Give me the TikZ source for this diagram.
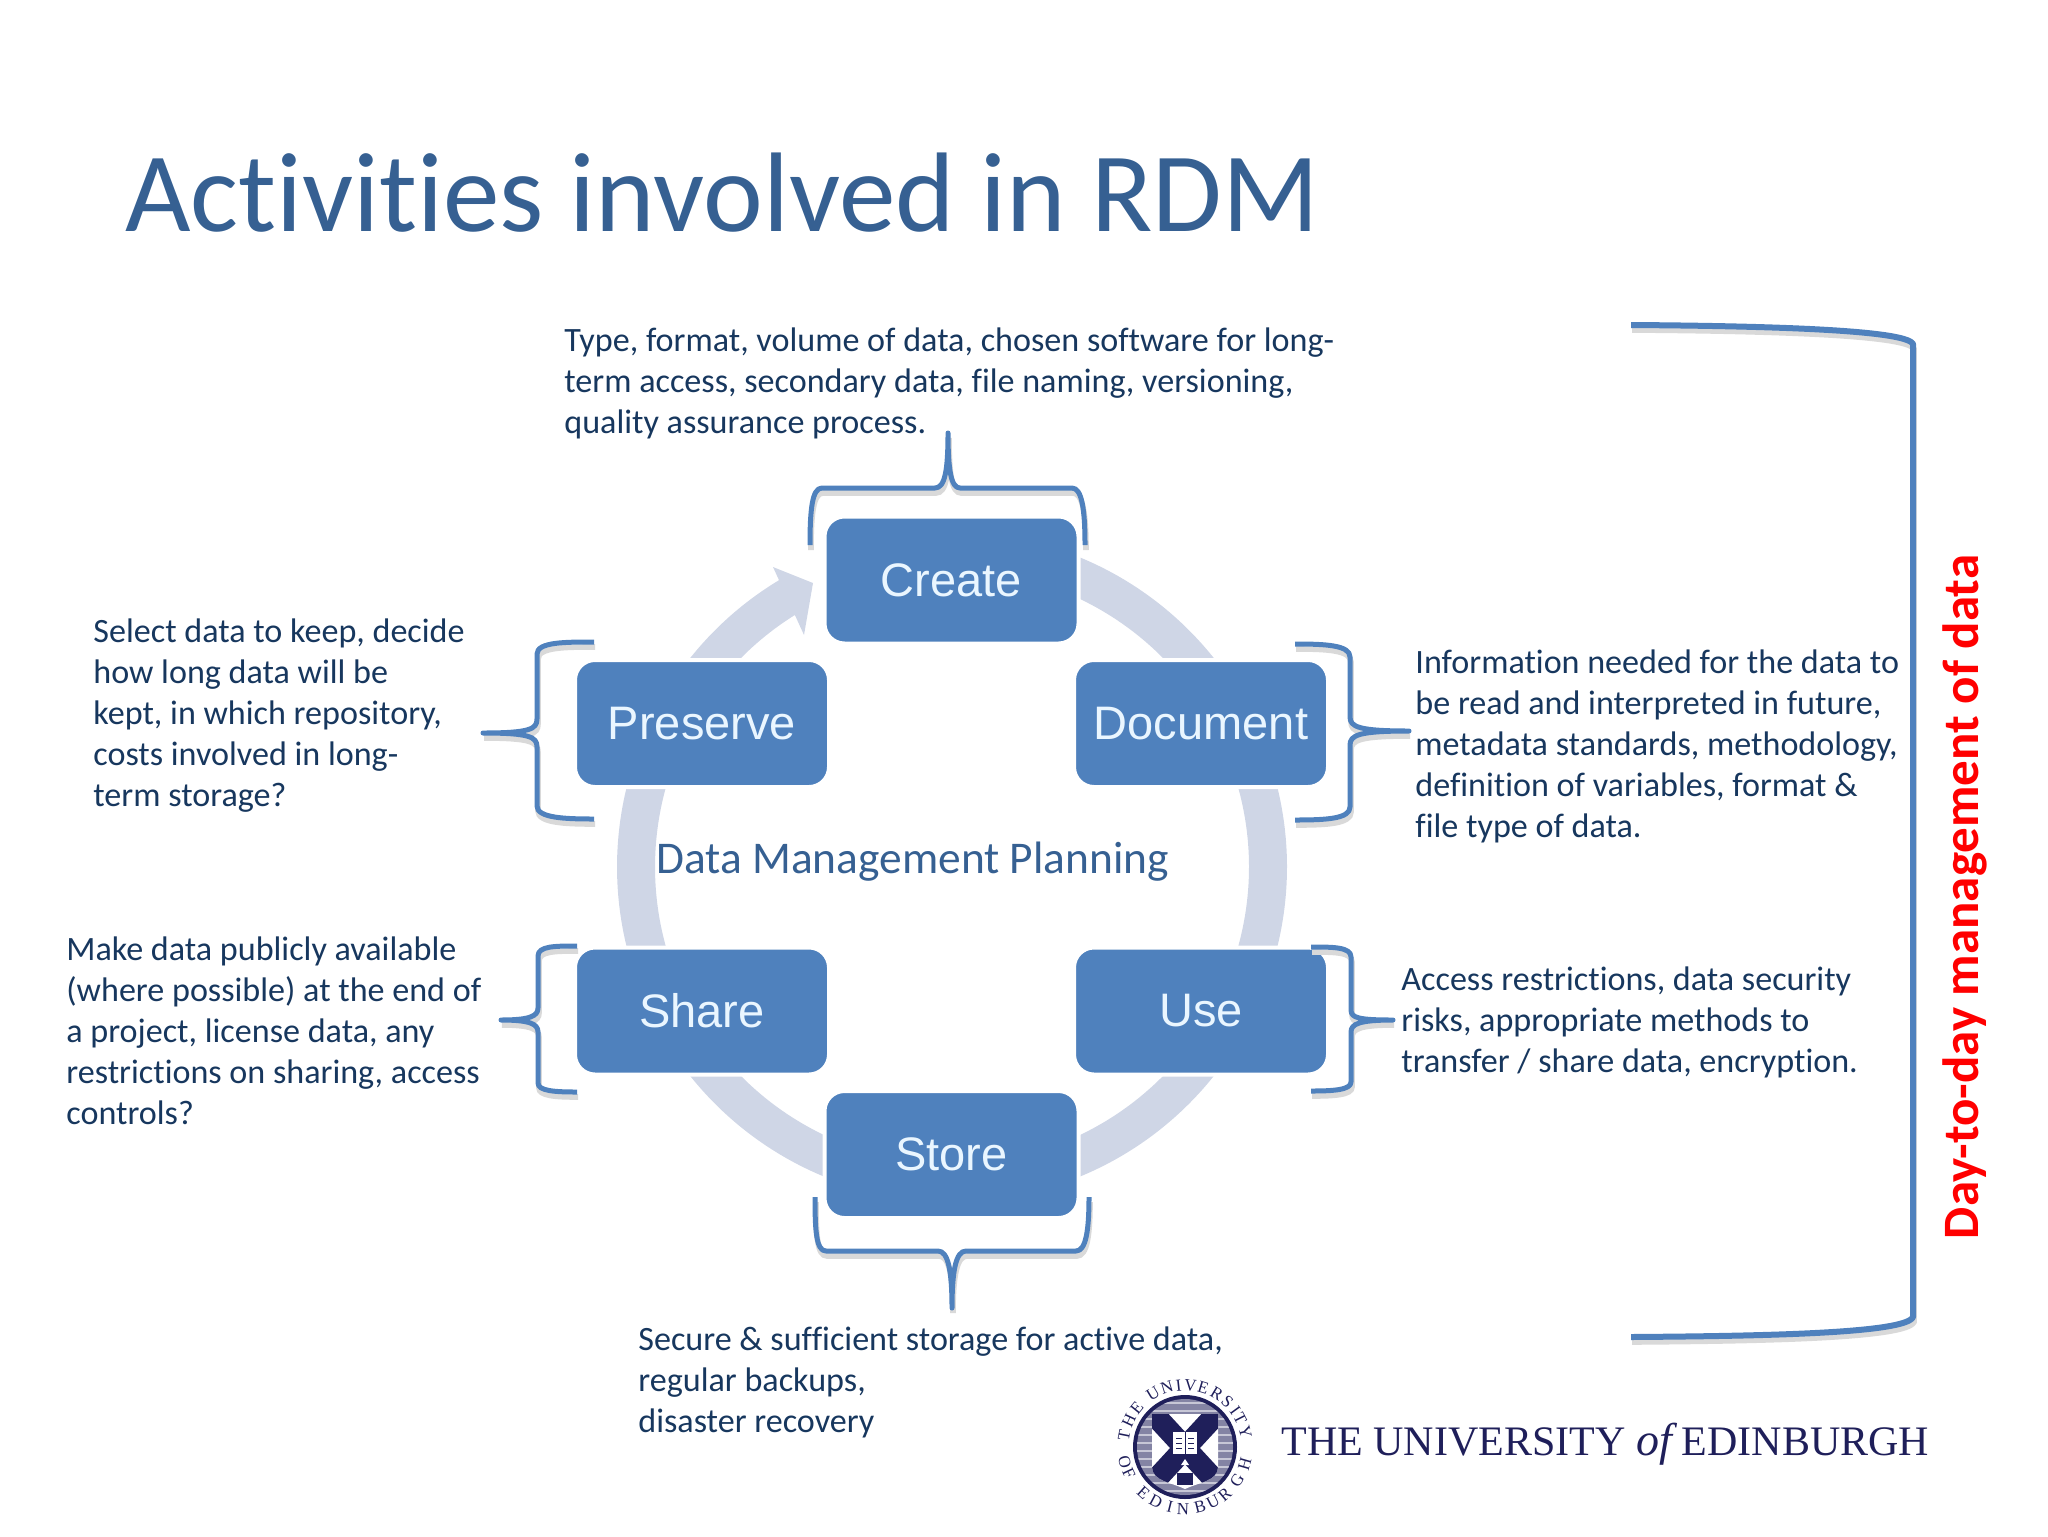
\documentclass[tikz,border=0pt]{standalone}
\usepackage{fontspec}
\setmainfont[RawFeature={-liga;-clig}]{Carlito}
\newfontfamily\boxfont{Liberation Sans}
\newfontfamily\logofont{Liberation Serif}
\definecolor{bluefill}{HTML}{4F81BD}
\definecolor{ringc}{HTML}{CFD6E6}
\definecolor{titlec}{HTML}{366092}
\definecolor{bodyc}{HTML}{17375E}
\definecolor{logoc}{HTML}{1F1F5A}
\definecolor{labelc}{HTML}{EAF6FF}
\tikzset{
  stagebox/.style={fill=bluefill,draw=white,line width=2pt,rounded corners=10pt,inner sep=0pt,
    minimum width=127pt,minimum height=63.5pt,text=labelc,font=\boxfont\fontsize{23.5}{27}\selectfont},
  bodytext/.style={anchor=north west,align=left,inner sep=0pt,text=bodyc,font=\fontsize{17.05}{20.5}\selectfont},
  bracebase/.style={draw=bluefill,line width=2.5pt,line join=round,
    preaction={draw=black!15,line width=2.8pt,transform canvas={yshift=-2.5pt,xshift=.5pt}}},
  ringarc/.style={draw=ringc,line width=19pt},
  sealletter/.style={inner sep=0pt,text=logoc,font=\logofont\fontsize{8.5}{9}\selectfont},
}
\begin{document}
\begin{tikzpicture}[x=0.5pt,y=-0.5pt]
\useasboundingbox (0,0) rectangle (2048,1536);
\node[anchor=base west,inner sep=0pt,text=titlec,font=\fontsize{56.6}{70}\selectfont] (title) at (125,231) {Activities involved in RDM};

% ring
\draw[ringarc] plot[domain=90:-239.5,samples=160,smooth] ({952+316*cos(\x)},{867-316*sin(\x)});
\fill[ringc] (813,583) -- (773,567) -- (804,635) -- cycle;

% boxes
\node[stagebox] (create) at (951.5,580) {Create};
\node[stagebox] (preserve) at (702,723.5) {Preserve};
\node[stagebox] (document) at (1201,723.5) {Document};
\node[stagebox] (share) at (702,1011) {Share};
\node[stagebox] (use) at (1201,1011) {Use};
\node[stagebox] (store) at (951.5,1154.5) {Store};
\node[anchor=base west,inner sep=0pt,text=titlec,font=\fontsize{22.7}{25}\selectfont] (dmp) at (656,873) {Data Management Planning};

% braces
\draw[bracebase] (810,545) .. controls (810,510) and (812,488) .. (822,488) -- (935,488) .. controls (945,488) and (948,470) .. (948,433) .. controls (948,470) and (951,488) .. (960,488) -- (1072,488) .. controls (1082,488) and (1085,510) .. (1085,545);
\draw[bracebase] (815,1197) .. controls (815,1230) and (816,1251) .. (826,1251) -- (938,1251) .. controls (948,1251) and (952,1270) .. (952,1308) .. controls (952,1270) and (956,1251) .. (966,1251) -- (1076,1251) .. controls (1086,1251) and (1089,1230) .. (1089,1197);
\draw[bracebase] (594,642) .. controls (565,642) and (537,642) .. (537,654) -- (537,719) .. controls (537,729) and (530,733) .. (483,733) .. controls (530,733) and (537,737) .. (537,747) -- (537,806) .. controls (537,818) and (565,819) .. (594,819);
\draw[bracebase] (1295,644) .. controls (1325,644) and (1350,645) .. (1350,657) -- (1350,717) .. controls (1350,727) and (1359,731) .. (1409,731) .. controls (1359,731) and (1350,735) .. (1350,745) -- (1350,807) .. controls (1350,819) and (1325,820) .. (1295,820);
\draw[bracebase] (577,946) .. controls (555,946) and (538,946) .. (538,956) -- (538,1008) .. controls (538,1016) and (530,1020) .. (501,1020) .. controls (530,1020) and (538,1024) .. (538,1032) -- (538,1083) .. controls (538,1091) and (555,1092) .. (577,1092);
\draw[bracebase] (1311,947) .. controls (1333,947) and (1351,947) .. (1351,957) -- (1351,1010) .. controls (1351,1018) and (1359,1020) .. (1393,1020) .. controls (1359,1020) and (1351,1024) .. (1351,1032) -- (1351,1082) .. controls (1351,1090) and (1333,1091) .. (1311,1091);
\draw[bracebase,line width=3pt] (1631,325) .. controls (1771,326) and (1906,330) .. (1913,344) -- (1913,1317) .. controls (1906,1333) and (1771,1336) .. (1631,1337);

% body text
\node[bodytext] (t1) at (564,327) {Type, format, volume of data, chosen software for long-\\term access, secondary data, file naming, versioning,\\quality assurance process.};
\node[bodytext] (t2) at (93,618) {Select data to keep, decide\\how long data will be\\kept, in which repository,\\costs involved in long-\\term storage?};
\node[bodytext] (t3) at (1415,649) {Information needed for the data to\\be read and interpreted in future,\\metadata standards, methodology,\\definition of variables, format \&\\file type of data.};
\node[bodytext] (t4) at (66,936) {Make data publicly available\\(where possible) at the end of\\a project, license data, any\\restrictions on sharing, access\\controls?};
\node[bodytext] (t5) at (1401,966) {Access restrictions, data security\\risks, appropriate methods to\\transfer / share data, encryption.};
\node[bodytext] (t6) at (638,1326) {Secure \& sufficient storage for active data,\\regular backups,\\disaster recovery};

% side label
\node[rotate=90,anchor=base,inner sep=0pt,text=red,font=\bfseries\fontsize{25.5}{28}\selectfont] (side) at (1978,897) {Day-to-day management of data};

% logo
\node[anchor=base west,inner sep=0pt,text=logoc,font=\logofont\fontsize{21}{25}\selectfont] (logo) at (1281,1455) {THE UNIVERSITY {\itshape\fontsize{23}{25}\selectfont of}\kern5ptEDINBURGH};
\begin{scope}[shift={(1185,1447)}]
  \fill[logoc] (0,0) circle[x radius=52,y radius=52];
  \begin{scope}
    \clip (0,0) circle[x radius=48,y radius=48];
    \fill[logoc!55!white] (-50,-50) rectangle (50,50);
    \foreach \yy in {-44,-36,...,44} {\draw[white!75!logoc,line width=1.2pt] (-50,\yy) -- (50,\yy);}
  \end{scope}
  \fill[white] (-33,-33) rectangle (33,20) (-33,20) .. controls (-33,34) and (-12,36) .. (0,42) .. controls (12,36) and (33,34) .. (33,20) -- cycle;
  \begin{scope}
    \clip (-33,-33) rectangle (33,20) (-33,20) .. controls (-33,34) and (-12,36) .. (0,42) .. controls (12,36) and (33,34) .. (33,20) -- cycle;
    \draw[logoc,line width=11pt] (-36,-38) -- (36,40);
    \draw[logoc,line width=11pt] (-36,40) -- (36,-38);
  \end{scope}
  \fill[white] (-12,-15) rectangle (12,7);
  \draw[logoc,line width=.5pt] (0,-15) -- (0,7) (-9,-9) -- (-3,-9) (-9,-4) -- (-3,-4) (-9,1) -- (-3,1) (3,-9) -- (9,-9) (3,-4) -- (9,-4) (3,1) -- (9,1);
  \fill[logoc] (-8,26) rectangle (8,38);
  \fill[white] (-4,18) -- (4,18) -- (0,12) -- cycle;
  \foreach \ch/\ang [count=\i] in {T/169,H/155,E/141,U/121,N/107,I/96,V/85,E/73,R/59,S/47,I/36,T/27,Y/14}
    \node[sealletter,rotate=\ang-90] (su\i) at ({62*cos(\ang)},{-62*sin(\ang)}) {\ch};
  \foreach \ch/\ang [count=\i] in {O/194,F/205,E/228,D/242,I/256,N/268,B/284,U/297,R/310,G/327,H/344}
    \node[sealletter,rotate=\ang+90] (se\i) at ({62*cos(\ang)},{-62*sin(\ang)}) {\ch};
\end{scope}
\end{tikzpicture}
\end{document}
